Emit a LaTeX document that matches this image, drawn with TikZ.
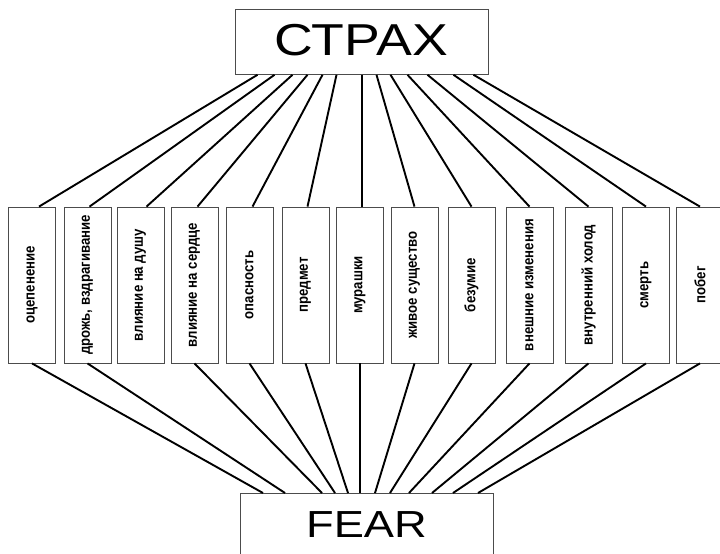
\documentclass[tikz,border=0pt]{standalone}
\usepackage{fontspec}
\usepackage{graphicx}
\setmainfont{Liberation Sans}
\newfontfamily\headfont[FakeStretch=1.2]{Liberation Sans}
\newfontfamily\itemfont[FakeStretch=0.88]{Liberation Sans}
\usepackage{tikz}
\usetikzlibrary{positioning}

\begin{document}
\begin{tikzpicture}[
    x=1pt, y=-1pt,
    word/.style={draw=gray!60!black, line width=0.8pt, minimum width=47pt,
        minimum height=156pt, inner sep=0pt,
        font=\itemfont\bfseries\fontsize{15}{15}\selectfont},
    title/.style={draw=gray!60!black, line width=0.8pt, minimum width=253pt,
        inner xsep=0pt, anchor=north},
    link/.style={line width=1.9pt, black}
]
    % Frame
    \useasboundingbox (0,0) rectangle (720,554);
    \clip (0,0) rectangle (720,554);

    % Headwords
    \node[title, font=\headfont\fontsize{44.7}{44.7}\selectfont,
        text height=32pt, text depth=5pt, inner ysep=14pt] (strakh) at (361.5,9) {СТРАХ};
    \node[title, font=\headfont\fontsize{37.7}{37.7}\selectfont,
        text height=27pt, text depth=10pt, inner ysep=17pt] (fear) at (366.5,493) {FEAR};

    % Components
    \node[word] (stupor) at (32,285) {\rotatebox{90}{оцепенение}};
    \node[word] (tremor) at (87.5,285) {\rotatebox{90}{дрожь, вздрагивание}};
    \node[word] (soul) at (140.5,285) {\rotatebox{90}{влияние на душу}};
    \node[word] (heart) at (194.5,285) {\rotatebox{90}{влияние на сердце}};
    \node[word] (danger) at (249.5,285) {\rotatebox{90}{опасность}};
    \node[word] (object) at (305.5,285) {\rotatebox{90}{предмет}};
    \node[word] (goose) at (360,285) {\rotatebox{90}{мурашки}};
    \node[word] (creature) at (414.5,285) {\rotatebox{90}{живое существо}};
    \node[word] (madness) at (471.5,285) {\rotatebox{90}{безумие}};
    \node[word] (outward) at (529.5,285) {\rotatebox{90}{внешние изменения}};
    \node[word] (chill) at (588.5,285) {\rotatebox{90}{внутренний холод}};
    \node[word] (death) at (646,285) {\rotatebox{90}{смерть}};
    \node[word] (escape) at (700,285) {\rotatebox{90}{побег}};

    % Links to the Russian word
    \draw[link] ([xshift=-104pt]strakh.south) -- ([xshift=7pt]stupor.north);
    \draw[link] ([xshift=-87pt]strakh.south) -- ([xshift=2pt]tremor.north);
    \draw[link] ([xshift=-69pt]strakh.south) -- ([xshift=6pt]soul.north);
    \draw[link] ([xshift=-54pt]strakh.south) -- ([xshift=3pt]heart.north);
    \draw[link] ([xshift=-39pt]strakh.south) -- ([xshift=3pt]danger.north);
    \draw[link] ([xshift=-25pt]strakh.south) -- ([xshift=2pt]object.north);
    \draw[link] ([xshift=0.5pt]strakh.south) -- ([xshift=2pt]goose.north);
    \draw[link] ([xshift=15pt]strakh.south) -- (creature.north);
    \draw[link] ([xshift=29pt]strakh.south) -- (madness.north);
    \draw[link] ([xshift=46pt]strakh.south) -- (outward.north);
    \draw[link] ([xshift=66pt]strakh.south) -- (chill.north);
    \draw[link] ([xshift=92pt]strakh.south) -- (death.north);
    \draw[link] ([xshift=112pt]strakh.south) -- (escape.north);

    % Links to the English word
    \draw[link] (stupor.south) -- ([xshift=-103.5pt]fear.north);
    \draw[link] (tremor.south) -- ([xshift=-81.5pt]fear.north);
    \draw[link] (heart.south) -- ([xshift=-44.5pt]fear.north);
    \draw[link] (danger.south) -- ([xshift=-31.5pt]fear.north);
    \draw[link] (object.south) -- ([xshift=-18.5pt]fear.north);
    \draw[link] (goose.south) -- ([xshift=-6.5pt]fear.north);
    \draw[link] (creature.south) -- ([xshift=8.5pt]fear.north);
    \draw[link] (madness.south) -- ([xshift=23.5pt]fear.north);
    \draw[link] (outward.south) -- ([xshift=42.5pt]fear.north);
    \draw[link] (chill.south) -- ([xshift=65.5pt]fear.north);
    \draw[link] (death.south) -- ([xshift=86.5pt]fear.north);
    \draw[link] (escape.south) -- ([xshift=111.5pt]fear.north);
\end{tikzpicture}
\end{document}
